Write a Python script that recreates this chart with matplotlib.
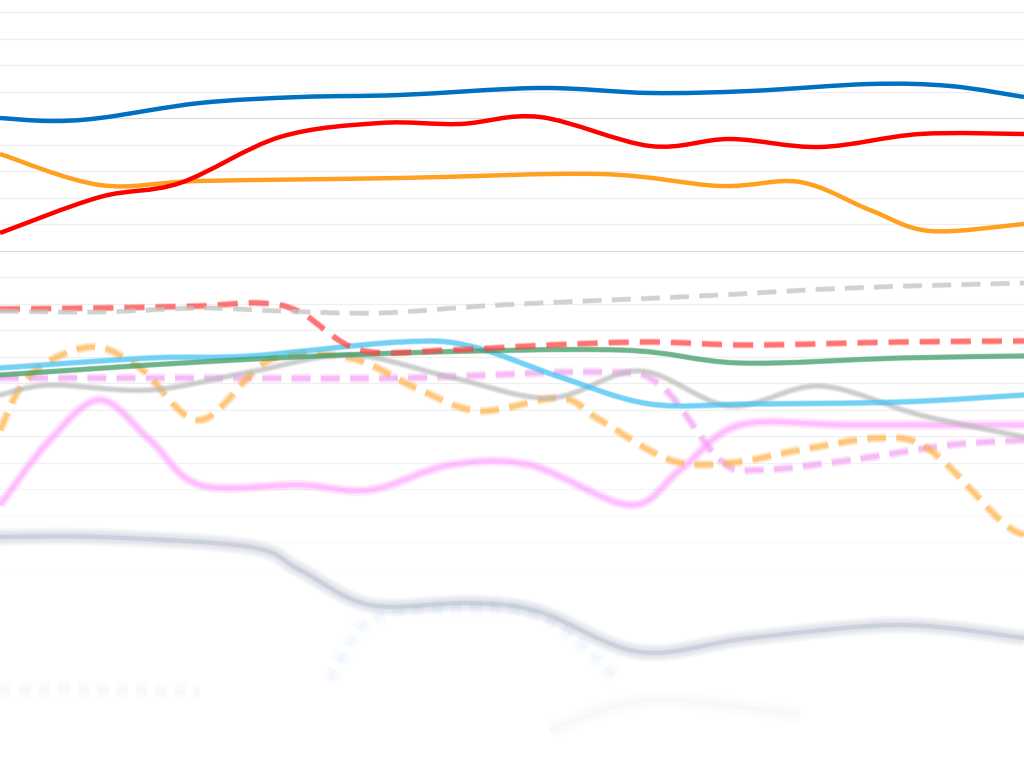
import numpy as np
import matplotlib
matplotlib.use('Agg')
import matplotlib.pyplot as plt
from matplotlib.path import Path
from matplotlib.patches import PathPatch

# series (x position, y value on an inverted axis)
blue_x = [0, 50, 100, 200, 300, 400, 540, 650, 750, 870, 950, 1024]
blue_y = [118, 121, 118, 103, 97, 95, 88, 93, 91, 84, 86, 97]
red_x = [0, 100, 180, 280, 380, 460, 540, 650, 730, 820, 920, 1024]
red_y = [233, 197, 183, 137, 123, 124, 117, 146, 139, 147, 134, 134]
orange_x = [0, 100, 200, 400, 600, 720, 800, 870, 930, 1024]
orange_y = [154, 185, 181, 178, 174, 186, 182, 210, 231, 224]
grayd_x = [0, 100, 200, 280, 380, 500, 700, 850, 1024]
grayd_y = [311, 312, 308, 311, 313, 305, 296, 288, 283]
redd_x = [0, 100, 200, 260, 300, 360, 450, 550, 650, 750, 900, 1024]
redd_y = [309, 308, 306, 303, 312, 350, 350, 345, 342, 345, 342, 341]
green_x = [0, 200, 400, 620, 740, 900, 1024]
green_y = [375, 362, 353, 350, 363, 358, 356]
cyan_x = [0, 150, 250, 400, 470, 560, 650, 750, 900, 1024]
cyan_y = [368, 358, 356, 342, 346, 377, 404, 404, 402, 395]
grays_x = [0, 50, 150, 250, 350, 450, 550, 640, 730, 820, 920, 1024]
grays_y = [395, 385, 390, 372, 355, 377, 398, 371, 406, 386, 415, 437]
orad_x = [0, 30, 90, 140, 200, 270, 350, 420, 480, 560, 600, 670, 730, 800, 880, 930, 1000, 1024]
orad_y = [430, 375, 347, 368, 420, 360, 358, 390, 411, 398, 420, 460, 463, 450, 438, 450, 520, 535]
pinkd_x = [0, 200, 400, 600, 660, 720, 760, 850, 950, 1024]
pinkd_y = [378, 378, 378, 372, 385, 460, 470, 460, 445, 440]
pink_x = [0, 50, 100, 150, 200, 300, 370, 450, 530, 630, 680, 740, 850, 1024]
pink_y = [505, 440, 400, 440, 485, 485, 490, 465, 465, 505, 470, 425, 425, 425]
slate_x = [0, 100, 250, 300, 370, 470, 540, 640, 750, 900, 1024]
slate_y = [537, 537, 547, 570, 605, 603, 612, 652, 638, 625, 638]
faint_x = [330, 370, 450, 540, 620]
faint_y = [680, 620, 608, 615, 680]
fgreen_x = [550, 650, 800]
fgreen_y = [730, 700, 715]
fgray_x = [0, 100, 200]
fgray_y = [690, 690, 692]
grid_y = [12 + 26.5 * k for k in range(29)]


def smooth_path(xs, ys):
    # Catmull-Rom converted to cubic bezier segments
    p = np.column_stack([xs, ys]).astype(float)
    verts = [p[0]]
    codes = [Path.MOVETO]
    for i in range(len(p) - 1):
        p0 = p[i - 1] if i > 0 else p[i]
        p3 = p[i + 2] if i + 2 < len(p) else p[i + 1]
        c1 = p[i] + (p[i + 1] - p0) / 6
        c2 = p[i + 1] - (p3 - p[i]) / 6
        verts += [c1, c2, p[i + 1]]
        codes += [Path.CURVE4] * 3
    return Path(verts, codes)


def draw(ax, xs, ys, color, lw, blur=0, alpha=1.0, dash=None):
    path = smooth_path(xs, ys)
    if blur:
        for k in range(1, 6):
            w = lw + blur * k
            ls = (0, (dash[0] * lw / w, dash[1] * lw / w)) if dash else '-'
            ax.add_patch(PathPatch(path, fill=False, ec=color, lw=w,
                                   alpha=alpha * 0.12, capstyle='butt', linestyle=ls))
    ax.add_patch(PathPatch(path, fill=False, ec=color, lw=lw,
                           alpha=alpha * (0.5 if blur else 1), capstyle='butt',
                           linestyle=(0, dash) if dash else '-'))


fig = plt.figure(figsize=(10.24, 7.68), dpi=100)
ax = fig.add_axes([0, 0, 1, 1])
ax.set_xlim(0, 1024)
ax.set_ylim(768, 0)
ax.axis('off')

for i, g in enumerate(grid_y):
    c = '#d8d8d8' if i in (4, 9) else '#efefef'
    fade = 1.0 if g < 430 else max(0.0, 1 - (g - 430) / 150)
    ax.axhline(g, color=c, lw=0.8, alpha=fade, zorder=0)

draw(ax, fgray_x, fgray_y, '#c8c8c8', 2, blur=2.5, alpha=0.07, dash=(4, 3))
draw(ax, fgreen_x, fgreen_y, '#a0d0a0', 2, blur=2.5, alpha=0.08)
draw(ax, faint_x, faint_y, '#a0e0ff', 2, blur=2.5, alpha=0.1, dash=(4, 3))
draw(ax, slate_x, slate_y, '#9aa4bc', 3, blur=2.0, alpha=0.55)
draw(ax, pink_x, pink_y, '#ff9cff', 3, blur=1.0, alpha=0.8)
draw(ax, pinkd_x, pinkd_y, '#f4a0f4', 3, blur=0.8, alpha=0.9, dash=(4.5, 2.5))
draw(ax, orad_x, orad_y, '#ffb040', 3, blur=0.8, alpha=0.9, dash=(4.5, 2.5))
draw(ax, grays_x, grays_y, '#bbbbbb', 2.5, blur=0.6, alpha=0.9)
draw(ax, cyan_x, cyan_y, '#45c4f5', 3.2, blur=0.3)
draw(ax, green_x, green_y, '#3c9c64', 3.2, blur=0.2)
draw(ax, redd_x, redd_y, '#ff4444', 3.2, blur=0.4, dash=(4.5, 2.5))
draw(ax, grayd_x, grayd_y, '#c4c4c4', 3, blur=0.2, dash=(4.5, 2.5))
draw(ax, orange_x, orange_y, '#ffa020', 3.2)
draw(ax, red_x, red_y, '#ff0000', 3.2)
draw(ax, blue_x, blue_y, '#0070c0', 3.2)

fig.savefig('out.png', dpi=100, facecolor='white')
